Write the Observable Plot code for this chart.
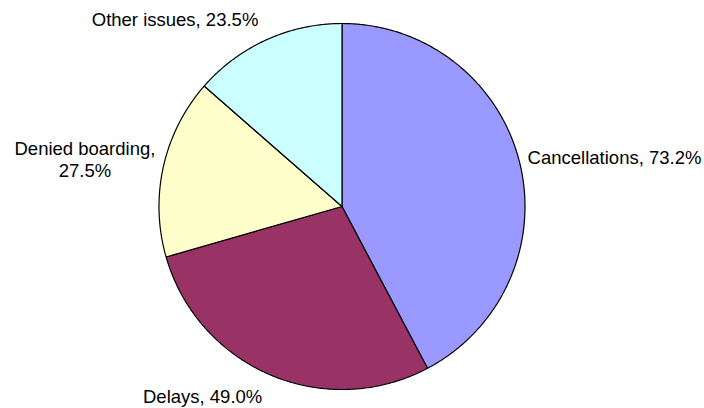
<!DOCTYPE html>
<html>
<head>
<meta charset="utf-8">
<script src="https://cdn.jsdelivr.net/npm/d3@7"></script>
<script src="https://cdn.jsdelivr.net/npm/@observablehq/plot@0.6"></script>
<style>
  html, body { margin: 0; padding: 0; background: #ffffff; }
  #chart svg { display: block; }
</style>
</head>
<body>
<div id="chart"></div>
<script>
// ---- data ----
const categories = ["Cancellations", "Delays", "Denied boarding", "Other issues"];
const values = [73.2, 49.0, 27.5, 23.5];
const wrapLabel = [false, false, true, false];
const colors = ["#9999FF", "#993366", "#FFFFCC", "#CCFFFF"];

// ---- layout ----
const W = 704, H = 408;
const CX = 341.5, CY = 206, R = 183;
const FS = 18.5, LH = 1.17;
const FONT = "'Liberation Sans', Arial, Helvetica, sans-serif";

const pie = d3.pie().sort(null).value(d => d.value)(
  categories.map((c, i) => ({cat: c, value: values[i], wrap: wrapLabel[i]}))
);

// slice polygons in unit-radius data space (clockwise from 12 o'clock)
const slicePts = [];
for (const s of pie) {
  const cat = s.data.cat;
  slicePts.push({cat, x: 0, y: 0});
  const n = Math.max(2, Math.ceil((s.endAngle - s.startAngle) / (Math.PI / 360)));
  for (let j = 0; j <= n; j++) {
    const a = s.startAngle + (s.endAngle - s.startAngle) * j / n;
    slicePts.push({cat, x: Math.sin(a), y: Math.cos(a)});
  }
  slicePts.push({cat, x: 0, y: 0});
}

// label placement
const ctx = document.createElement("canvas").getContext("2d");
ctx.font = `${FS}px ${FONT}`;
const labels = pie.map(s => {
  const v = s.data.value.toFixed(1) + "%";
  const lines = s.data.wrap ? [s.data.cat + ",", v] : [s.data.cat + ", " + v];
  const w = d3.max(lines, l => ctx.measureText(l).width);
  const h = FS * (1 + (lines.length - 1) * LH);
  const mid = (s.startAngle + s.endAngle) / 2;
  const sx = Math.sin(mid), cy = Math.cos(mid);
  const gx = 8, gy = 14;
  const pxX = CX + R * sx + (sx >= 0 ? (gx + w / 2) : -(gx + w / 2));
  const pxY = CY - R * cy - cy * (h / 2 + gy);
  return {text: lines.join("\n"), x: (pxX - CX) / R, y: (CY - pxY) / R};
});

const chart = Plot.plot({
  width: W,
  height: H,
  margin: 0,
  style: {background: "#ffffff", fontFamily: FONT},
  x: {domain: [(0 - CX) / R, (W - CX) / R], range: [0, W], axis: null},
  y: {domain: [(CY - H) / R, CY / R], range: [H, 0], axis: null},
  color: {domain: categories, range: colors},
  marks: [
    Plot.line(slicePts, {x: "x", y: "y", z: "cat", fill: "cat", stroke: "#000000", strokeWidth: 1.2, strokeLinejoin: "miter", curve: "linear"}),
    Plot.text(labels, {x: "x", y: "y", text: "text", textAnchor: "middle", lineAnchor: "middle", lineHeight: LH, fontSize: FS, fontFamily: FONT, fill: "#000000"})
  ]
});
document.getElementById("chart").appendChild(chart);
</script>
</body>
</html>
